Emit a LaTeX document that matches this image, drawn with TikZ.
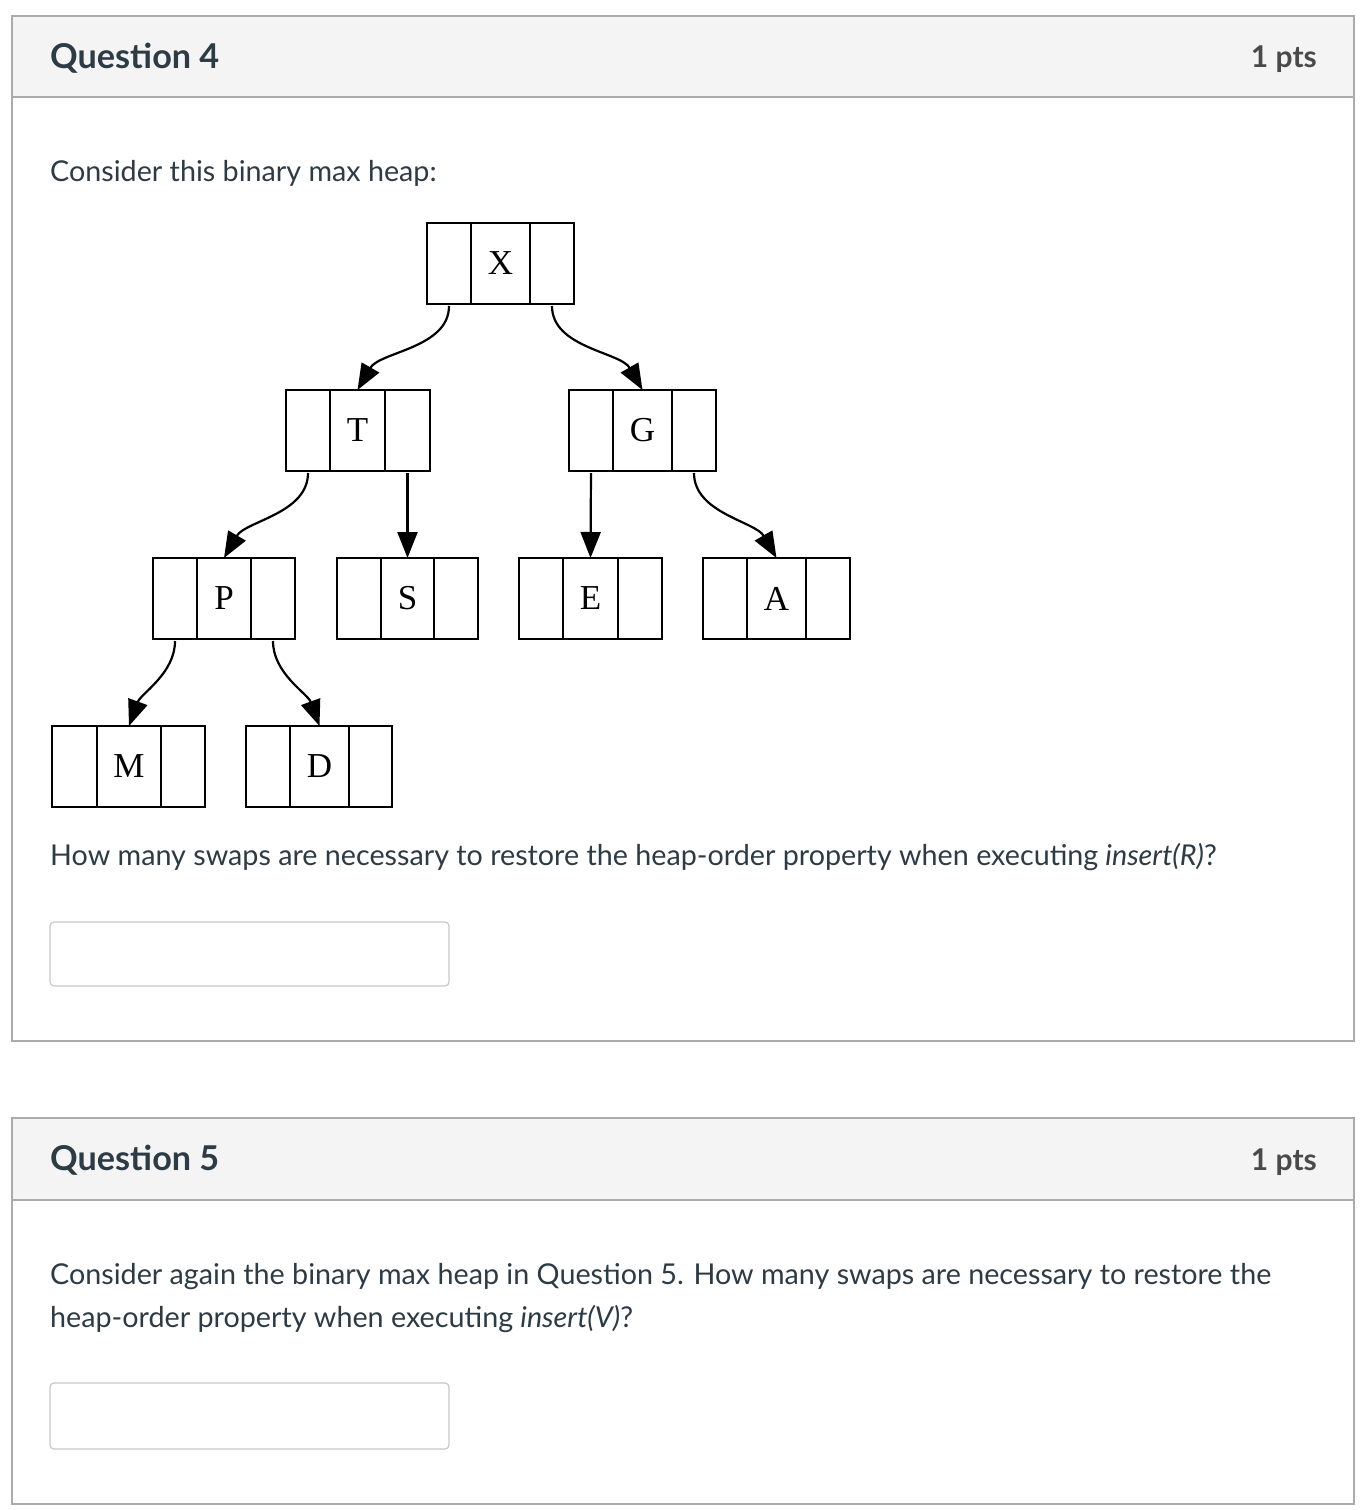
\documentclass[tikz,border=0pt]{standalone}
\usepackage{fontspec}
\setmainfont{Lato}
\newfontfamily\tms{Liberation Serif}
\usetikzlibrary{arrows.meta}
\definecolor{txt}{HTML}{2D3B45}
\definecolor{pts}{HTML}{4A4A4A}
\definecolor{hdr}{HTML}{F4F4F4}
\definecolor{frame}{HTML}{ABABAB}
\definecolor{inbox}{HTML}{C8C8C8}
\tikzset{
  cell/.style={draw=black, line width=2pt, inner sep=0pt, outer sep=0pt, minimum height=81pt},
  letter/.style={font=\tms\fontsize{35}{35}\selectfont},
  edge/.style={draw=black, line width=2.2pt, -{Triangle[length=26pt,width=20pt]}, shorten <=2pt},
  body/.style={anchor=base west, inner sep=0pt, text=txt, font=\fontsize{28.7}{34}\selectfont},
  qtitle/.style={anchor=base west, inner sep=0pt, text=txt, font=\bfseries\fontsize{34.2}{40}\selectfont},
  qpts/.style={anchor=base east, inner sep=0pt, text=pts, font=\bfseries\fontsize{30}{34}\selectfont},
  answer/.style={draw=inbox, line width=1.2pt, rounded corners=4pt, fill=white},
  panel/.style={draw=frame, line width=1.5pt},
}
\newcommand{\hnode}[7]{%
  \pgfmathsetmacro\hwa{#3-#2}\pgfmathsetmacro\hwb{#4-#3}\pgfmathsetmacro\hwc{#5-#4}%
  \pgfmathsetmacro\hca{(#2+#3)/2}\pgfmathsetmacro\hcb{(#3+#4)/2}\pgfmathsetmacro\hcc{(#4+#5)/2}%
  \pgfmathsetmacro\hcy{#6+40.5}%
  \node[cell, minimum width=\hwa pt] (#1l) at (\hca,\hcy) {};
  \node[cell, minimum width=\hwb pt, letter] (#1m) at (\hcb,\hcy) {#7};
  \node[cell, minimum width=\hwc pt] (#1r) at (\hcc,\hcy) {};
}
\begin{document}
\begin{tikzpicture}[x=1pt, y=-1pt]
  \useasboundingbox (0,0) rectangle (1366,1510);
  \fill[white] (0,0) rectangle (1366,1510);
  % Question 4 panel
  \fill[hdr] (12,16) rectangle (1354,97);
  \draw[panel] (12,16) rectangle (1354,1041);
  \draw[panel] (12,97) -- (1354,97);
  \node[qtitle] (q4t) at (50,68) {Question 4};
  \node[qpts] (q4p) at (1317,67) {1 pts};
  \node[body] (q4a) at (50,181) {Consider this binary max heap:};
  % heap
  \hnode{X}{427}{471}{530}{574}{223}{X}
  \hnode{T}{286}{330}{385}{430}{390}{T}
  \hnode{G}{569}{613}{672}{716}{390}{G}
  \hnode{P}{153}{197}{251}{295}{558}{P}
  \hnode{S}{337}{381}{434}{478}{558}{S}
  \hnode{E}{519}{563}{618}{662}{558}{E}
  \hnode{A}{703}{747}{806}{850}{558}{A}
  \hnode{M}{52}{97}{161}{205}{726}{M}
  \hnode{D}{246}{290}{349}{392}{726}{D}
  \draw[edge] (Xl.south) to[out=-90, in=60, looseness=0.9] (Tm.north);
  \draw[edge] (Xr.south) to[out=-90, in=120, looseness=0.9] (Gm.north);
  \draw[edge] (Tl.south) to[out=-90, in=60, looseness=0.9] (Pm.north);
  \draw[edge] (Tr.south) -- (Sm.north);
  \draw[edge] (Gl.south) -- (Em.north);
  \draw[edge] (Gr.south) to[out=-90, in=120, looseness=0.9] (Am.north);
  \draw[edge] (Pl.south) to[out=-90, in=70, looseness=0.9] (Mm.north);
  \draw[edge] (Pr.south) to[out=-90, in=110, looseness=0.9] (Dm.north);
  \node[body] (q4b) at (50,865) {How many swaps are necessary to restore the heap-order property when executing \textit{insert(R)}?};
  \draw[answer] (50,922) rectangle (449,986);
  % Question 5 panel
  \fill[hdr] (12,1118) rectangle (1354,1200);
  \draw[panel] (12,1118) rectangle (1354,1504);
  \draw[panel] (12,1200) -- (1354,1200);
  \node[qtitle] (q5t) at (50,1170) {Question 5};
  \node[qpts] (q5p) at (1317,1170) {1 pts};
  \node[body] (q5a) at (50,1284) {Consider again the binary max heap in Question 5. How many swaps are necessary to restore the};
  \node[body] (q5b) at (50,1327) {heap-order property when executing \textit{insert(V)}?};
  \draw[answer] (50,1383) rectangle (449,1449);
\end{tikzpicture}
\end{document}
